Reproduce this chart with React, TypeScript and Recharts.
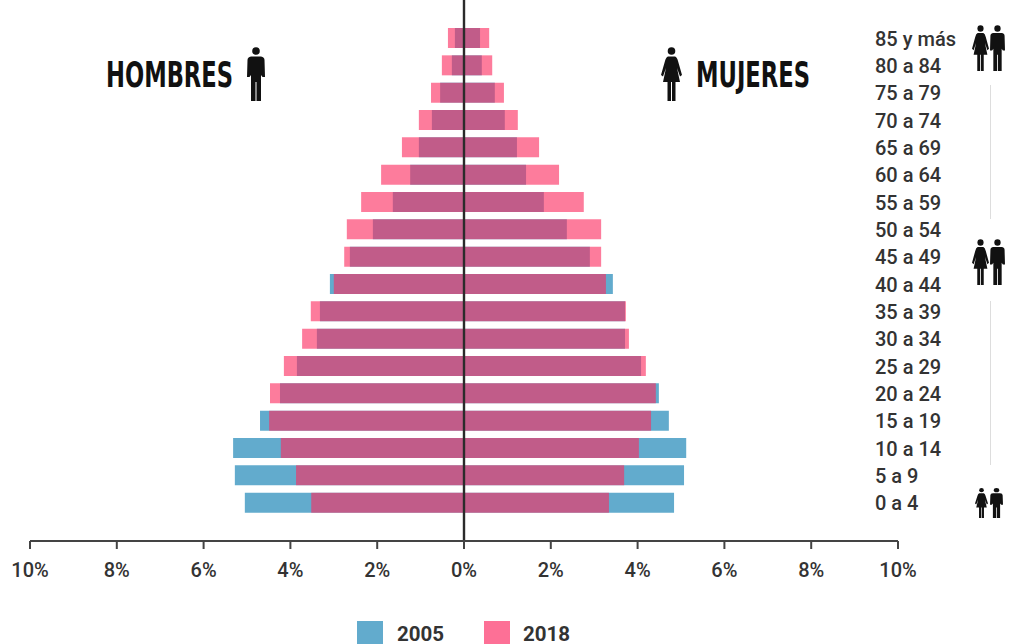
import React from 'react';
import { BarChart, Bar, XAxis, YAxis, Legend, ReferenceLine } from 'recharts';

// Age groups, top of the pyramid first
const ageGroups = ['85 y más', '80 a 84', '75 a 79', '70 a 74', '65 a 69', '60 a 64', '55 a 59', '50 a 54', '45 a 49', '40 a 44', '35 a 39', '30 a 34', '25 a 29', '20 a 24', '15 a 19', '10 a 14', '5 a 9', '0 a 4'];

// Share of population (%), men are negative so they grow to the left
const men2005 = [-0.21, -0.28, -0.55, -0.74, -1.04, -1.24, -1.64, -2.1, -2.63, -3.09, -3.32, -3.39, -3.85, -4.24, -4.7, -5.32, -5.28, -5.05];
const men2018 = [-0.37, -0.51, -0.76, -1.04, -1.43, -1.91, -2.37, -2.7, -2.76, -3.0, -3.53, -3.73, -4.15, -4.47, -4.49, -4.22, -3.87, -3.52];
const women2005 = [0.37, 0.41, 0.71, 0.94, 1.22, 1.43, 1.84, 2.37, 2.9, 3.43, 3.71, 3.71, 4.08, 4.49, 4.72, 5.12, 5.07, 4.84];
const women2018 = [0.58, 0.65, 0.92, 1.24, 1.73, 2.19, 2.76, 3.16, 3.16, 3.27, 3.73, 3.8, 4.19, 4.42, 4.31, 4.03, 3.69, 3.34];

const xTicks = [-10, -8, -6, -4, -2, 0, 2, 4, 6, 8, 10];

const BLUE = '#62abcd';
const PINK = '#fb2c60';
const PINK_OPACITY = 0.62;
const PINK_SOLID = '#fd7096';
const FONT = 'Roboto, sans-serif';
const HEAD_FONT = "'Liberation Sans Narrow', 'DejaVu Sans Condensed', sans-serif";
const INK = '#333333';

const chartData = ageGroups.map((age, i) => ({
  age,
  men2005: men2005[i],
  men2018: men2018[i],
  women2005: women2005[i],
  women2018: women2018[i],
}));

const AgeTick = (props: any) => (
  <text x={875} y={props.y + 8} fontFamily={FONT} fontWeight={500} fontSize={20} fill={INK}>
    {props.payload.value}
  </text>
);

const LegendBox = () => (
  <div style={{ position: 'relative', width: 300, height: 23, overflow: 'visible', fontFamily: FONT, fontWeight: 700, fontSize: 20.5, color: INK }}>
    <div style={{ position: 'absolute', left: 0, top: 0, width: 26, height: 23, background: BLUE }} />
    <div style={{ position: 'absolute', left: 40, top: 4, lineHeight: '18px' }}>2005</div>
    <div style={{ position: 'absolute', left: 127, top: 0, width: 26, height: 23, background: PINK_SOLID }} />
    <div style={{ position: 'absolute', left: 166, top: 4, lineHeight: '18px' }}>2018</div>
  </div>
);

// Central axis stops a little short of the x axis
const CentreLine = (props: any) => (
  <line x1={props.x1} x2={props.x2} y1={props.y1} y2={props.y2 - 11} stroke="#2b2b2b" strokeWidth={2.4} />
);

const Man = ({ x, y, h, w = 18 }: { x: number; y: number; h: number; w?: number }) => (
  <g transform={`translate(${x} ${y}) scale(${w / 18} ${h / 54})`} fill="#111">
    <circle cx={9} cy={4} r={3.8} />
    <path d="M4 9.5 H14 Q17.5 10 17.5 13 L18 30 H15.5 L14 28 V54 H9.5 V35 H8.5 V54 H4 V28 L2.5 30 H0 L0.5 13 Q0.5 10 4 9.5 Z" />
  </g>
);

const Woman = ({ x, y, h, w = 21 }: { x: number; y: number; h: number; w?: number }) => (
  <g transform={`translate(${x} ${y}) scale(${w / 21} ${h / 54})`} fill="#111">
    <circle cx={10.5} cy={4} r={3.8} />
    <path d="M7 9.5 H14 Q16 10 17 14 L21 28 L19 29.5 L16 21 L19 35 H14.5 V54 H11 V35 H10 V54 H6.5 V35 H2 L5 21 L2 29.5 L0 28 L4 14 Q5 10 7 9.5 Z" />
  </g>
);

const Annotations = () => (
  <svg width={1009} height={644} style={{ position: 'absolute', left: 0, top: 0, pointerEvents: 'none' }}>
    <text x={106} y={87} fontFamily={HEAD_FONT} fontWeight={700} fontSize={36} textLength={127} lengthAdjust="spacingAndGlyphs" fill="#111">HOMBRES</text>
    <text x={696} y={87} fontFamily={HEAD_FONT} fontWeight={700} fontSize={36} textLength={114} lengthAdjust="spacingAndGlyphs" fill="#111">MUJERES</text>
    <Man x={247} y={47} h={54} />
    <Woman x={661} y={47} h={54} />
    <Woman x={972} y={25} h={46} w={17} />
    <Man x={990} y={25} h={46} w={15} />
    <Woman x={972} y={239} h={46} w={17} />
    <Man x={990} y={239} h={46} w={15} />
    <Woman x={975} y={488} h={30} w={13} />
    <Man x={990} y={488} h={30} w={13} />
    <line x1={990.5} x2={990.5} y1={85} y2={219} stroke="#dddddd" strokeWidth={1} />
    <line x1={990.5} x2={990.5} y1={301} y2={465} stroke="#dddddd" strokeWidth={1} />
  </svg>
);

export default function App() {
  return (
    <div style={{ position: 'absolute', left: 0, top: 0, width: 1009, height: 644, overflow: 'hidden', background: '#fff' }}>
      <BarChart
        width={1009}
        height={644}
        data={chartData}
        layout="vertical"
        stackOffset="sign"
        barSize={20}
        barGap={-20}
        margin={{ top: 9, right: 51, bottom: 63, left: 30 }}
      >
        <XAxis
          type="number"
          domain={[-10, 10]}
          ticks={xTicks}
          interval={0}
          height={40}
          tickFormatter={(v: number) => `${Math.abs(v)}%`}
          axisLine={{ stroke: '#444', strokeWidth: 2 }}
          tickLine={{ stroke: '#444', strokeWidth: 2 }}
          tickSize={8}
          tickMargin={14}
          tick={{ fontFamily: FONT, fontWeight: 500, fontSize: 20, fill: INK }}
        />
        <YAxis
          type="category"
          dataKey="age"
          orientation="right"
          width={60}
          interval={0}
          axisLine={false}
          tickLine={false}
          padding={{ top: 15, bottom: 25 }}
          tick={<AgeTick />}
        />
        <Legend
          layout="horizontal"
          verticalAlign="middle"
          content={<LegendBox />}
          wrapperStyle={{ position: 'absolute', left: 357, top: 621, width: 300, bottom: 'auto' }}
        />
        <Bar dataKey="men2005" name="2005" stackId="a" fill={BLUE} isAnimationActive={false} />
        <Bar dataKey="women2005" name="2005" stackId="a" fill={BLUE} isAnimationActive={false} />
        <Bar dataKey="men2018" name="2018" stackId="b" fill={PINK} fillOpacity={PINK_OPACITY} isAnimationActive={false} />
        <Bar dataKey="women2018" name="2018" stackId="b" fill={PINK} fillOpacity={PINK_OPACITY} isAnimationActive={false} />
        <ReferenceLine x={0} shape={<CentreLine />} />
      </BarChart>
      <Annotations />
    </div>
  );
}
